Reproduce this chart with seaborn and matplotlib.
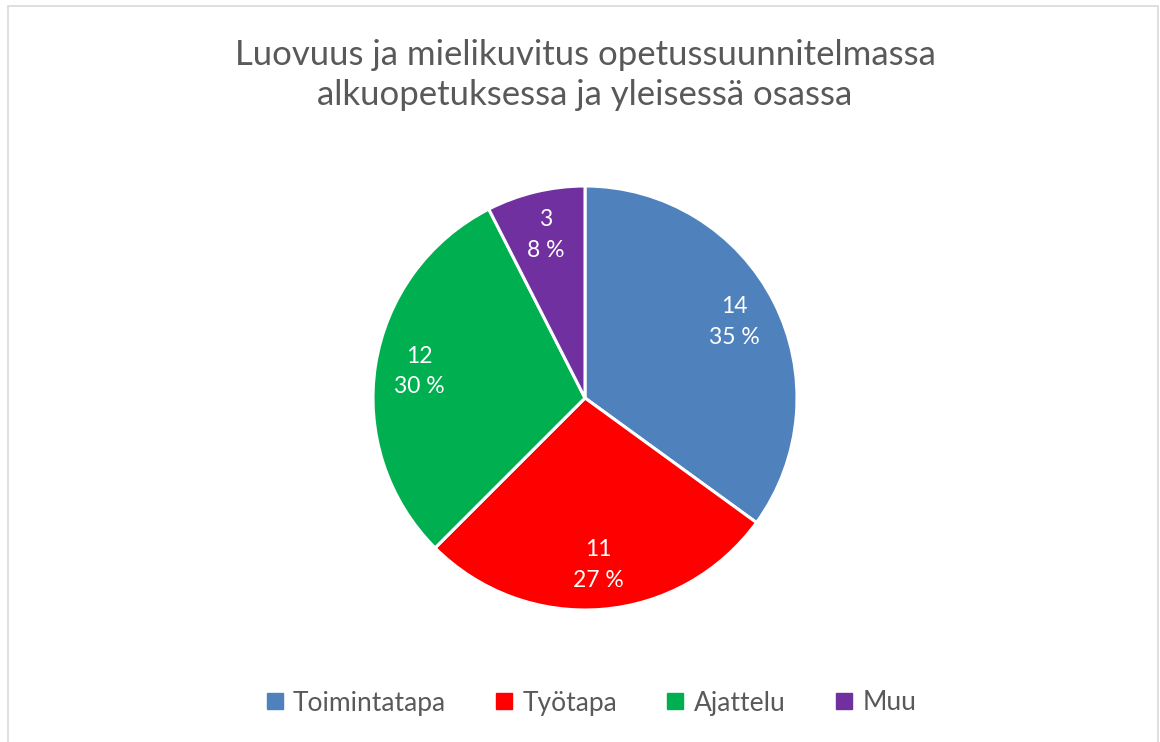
import matplotlib
matplotlib.use("Agg")
import matplotlib.pyplot as plt
from matplotlib.patches import Rectangle
from matplotlib.lines import Line2D
import seaborn as sns

categories = ["Toimintatapa", "Työtapa", "Ajattelu", "Muu"]
counts = [14, 11, 12, 3]
pct_labels = ["35 %", "27 %", "30 %", "8 %"]
colors = ["#4F81BD", "#FF0000", "#00B050", "#7030A0"]
title = "Luovuus ja mielikuvitus opetussuunnitelmassa\nalkuopetuksessa ja yleisessä osassa"

sns.set_theme(style="white")
plt.rcParams["font.family"] = ["Lato", "DejaVu Sans"]
text_grey = "#595959"

fig = plt.figure(figsize=(11.6, 7.42), dpi=100)
W, H = 1160, 742

# chart border
fig.patches.append(Rectangle((8 / W, -0.01), (1158 - 8) / W, 1 - 6 / H + 0.01,
                             transform=fig.transFigure, fill=False,
                             edgecolor="#D9D9D9", linewidth=1.2))

cx, cy, r = 585, 398, 212
ax = fig.add_axes([(cx - r) / W, (H - cy - r) / H, 2 * r / W, 2 * r / H])
labels = [f"{c}\n{p}" for c, p in zip(counts, pct_labels)]
wedges, texts = ax.pie(counts, colors=colors, startangle=90, counterclock=False,
                       labels=labels, labeldistance=0.79,
                       wedgeprops=dict(edgecolor="white", linewidth=2.2),
                       textprops=dict(color="white", fontsize=16.5, ha="center",
                                      va="center", linespacing=1.55))
ax.set_xlim(-1, 1)
ax.set_ylim(-1, 1)
ax.set_aspect("equal")
ax.axis("off")

fig.text(585 / W, 1 - 75 / H, title, ha="center", va="center",
         fontsize=25, color=text_grey, linespacing=1.3)

handles = [Line2D([], [], marker="s", linestyle="none", markersize=11,
                  markerfacecolor=c, markeredgecolor=c) for c in colors]
fig.legend(handles, categories, loc="center", bbox_to_anchor=(590 / W, 1 - 703 / H),
           ncol=4, frameon=False, fontsize=19, labelcolor=text_grey,
           handletextpad=0.3, columnspacing=1.8, handlelength=0.8)

fig.savefig("out.png", dpi=100, facecolor="white")
